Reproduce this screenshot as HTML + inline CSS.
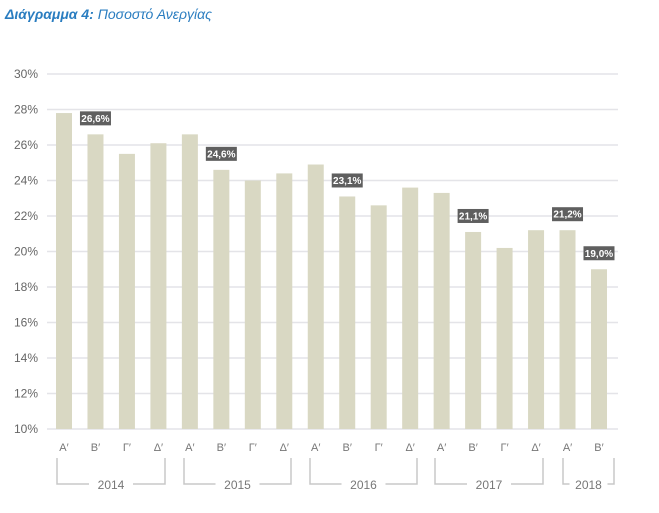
<!DOCTYPE html>
<html><head><meta charset="utf-8"><style>
body{margin:0;background:#fff;width:659px;height:508px;overflow:hidden}
</style></head><body>
<svg width="659" height="508" xmlns="http://www.w3.org/2000/svg" font-family="Liberation Sans, DejaVu Sans, sans-serif">
<text x="5" y="19" font-size="14" font-style="italic" fill="#2a7dc0"><tspan font-weight="bold">Διάγραμμα 4:</tspan> Ποσοστό Ανεργίας</text>
<g id="grid" stroke="#e4e4e8" stroke-width="1.5"></g>
<g id="ylab" font-size="12" fill="#666" text-anchor="end"></g>
<g id="bars" fill="#d9d8c3"></g>
<g id="labs"></g>
<g id="xl" font-size="11" fill="#777" text-anchor="middle"></g>
<g id="br" stroke="#c8c8c8" stroke-width="1.5" fill="none"></g>
<g id="yr" font-size="12" fill="#777" text-anchor="middle"></g>
</svg>
<script>
var ns="http://www.w3.org/2000/svg";
function el(p,t,a,tx){var e=document.createElementNS(ns,t);for(var k in a)e.setAttribute(k,a[k]);if(tx)e.textContent=tx;document.getElementById(p).appendChild(e);return e;}
function Y(v){return 429-(v-10)*17.75;}
for(var v=10;v<=30;v+=2){el('grid','line',{x1:47,x2:618,y1:Y(v),y2:Y(v)});el('ylab','text',{x:38,y:Y(v)+4},v+'%');}
var d=[27.8,26.6,25.5,26.1,26.6,24.6,24.0,24.4,24.9,23.1,22.6,23.6,23.3,21.1,20.2,21.2,21.2,19.0];
var q=["Α′","Β′","Γ′","Δ′"];
var lab={1:1,5:1,9:1,13:1,16:1,17:1};
d.forEach(function(v,i){var x=56+i*31.47;el('bars','rect',{x:x,y:Y(v),width:16,height:429-Y(v)});
el('xl','text',{x:x+8,y:451},q[i%4]);
if(lab[i]){var t=v.toFixed(1).replace('.',',')+'%';el('labs','rect',{x:x+8-15.5,y:Y(v)-23,width:31,height:14,fill:'#5f5f5f'});
el('labs','text',{x:x+8,y:Y(v)-12.5,'font-size':10,'font-weight':'bold',fill:'#fff','text-anchor':'middle'},t);}
});
var yrs=[[57,165,"2014"],[184,291,"2015"],[310,417,"2016"],[435,543,"2017"],[563,614,"2018"]];
yrs.forEach(function(b){var c=(b[0]+b[1])/2,hw=b[2]=="2018"?19:22;
el('br','path',{d:"M"+b[0]+" 458V484H"+(c-hw)+"M"+(c+hw)+" 484H"+b[1]+"V458"});
el('yr','text',{x:c,y:489},b[2]);});
</script>
</body></html>
